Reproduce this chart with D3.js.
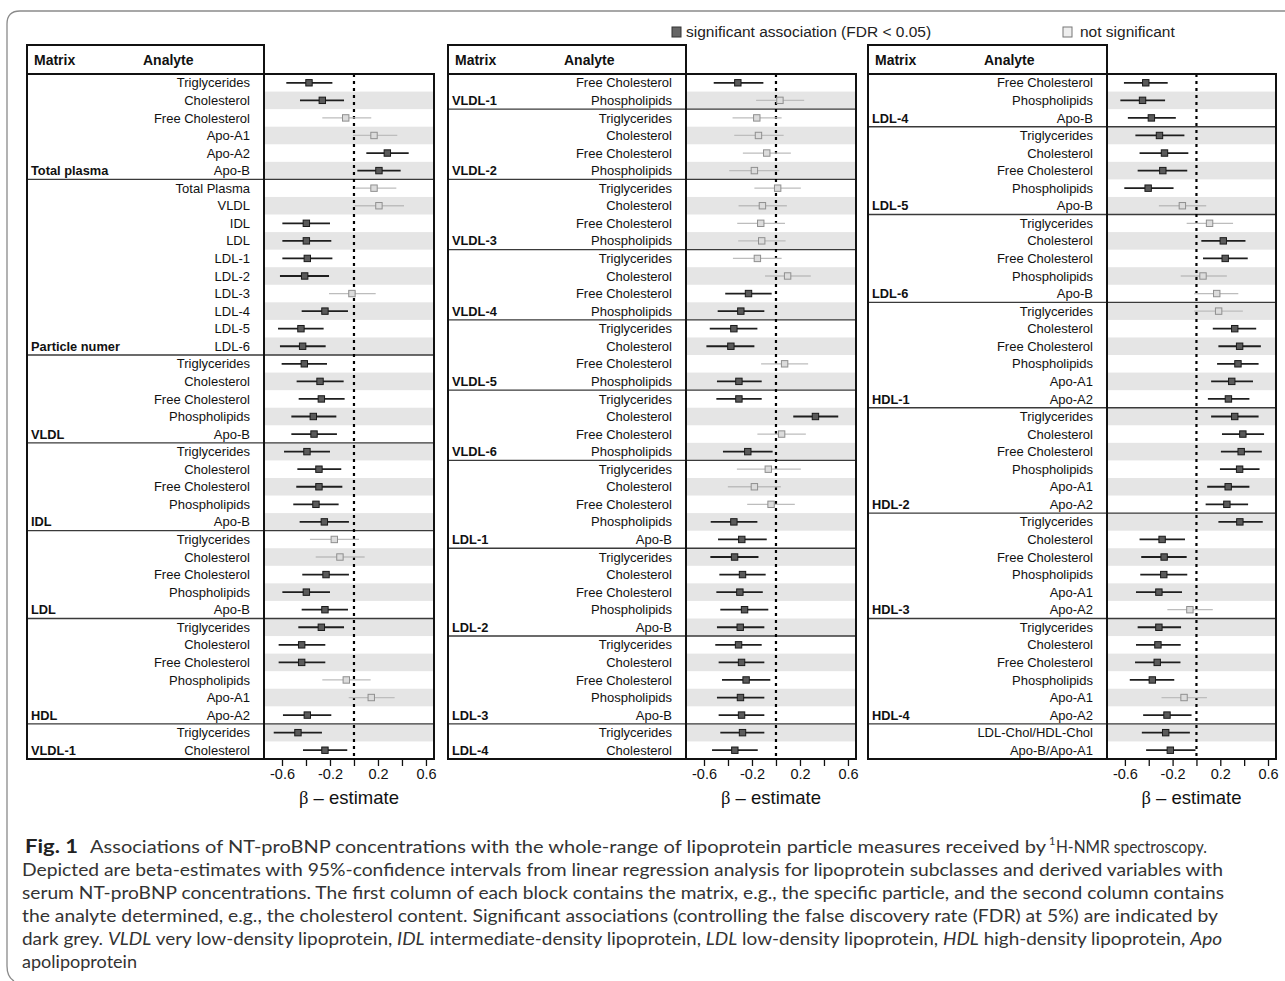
<!DOCTYPE html>
<html><head><meta charset="utf-8">
<script src="https://cdn.jsdelivr.net/npm/d3@7"></script>
<style>body{margin:0;background:#fff}svg{display:block}</style>
</head><body>
<script>
// ---------------- DATA ----------------
const legendLabels = ["significant association (FDR < 0.05)", "not significant"];
const tickValues = [-0.6, -0.4, -0.2, 0, 0.2, 0.4, 0.6];
const tickLabels = ["-0.6", "", "-0.2", "", "0.2", "", "0.6"];

const p1Groups = ["Total plasma", "Particle numer", "VLDL", "IDL", "LDL", "HDL", "VLDL-1"];
const p1GroupSizes = [6, 10, 5, 5, 5, 6, 2];
const p1Analytes = ["Triglycerides","Cholesterol","Free Cholesterol","Apo-A1","Apo-A2","Apo-B",
  "Total Plasma","VLDL","IDL","LDL","LDL-1","LDL-2","LDL-3","LDL-4","LDL-5","LDL-6",
  "Triglycerides","Cholesterol","Free Cholesterol","Phospholipids","Apo-B",
  "Triglycerides","Cholesterol","Free Cholesterol","Phospholipids","Apo-B",
  "Triglycerides","Cholesterol","Free Cholesterol","Phospholipids","Apo-B",
  "Triglycerides","Cholesterol","Free Cholesterol","Phospholipids","Apo-A1","Apo-A2",
  "Triglycerides","Cholesterol"];
const p1Est = [-0.375,-0.264,-0.069,0.167,0.278,0.208, 0.167,0.208,-0.397,-0.397,-0.389,-0.411,-0.017,-0.242,-0.442,-0.428,
  -0.414,-0.283,-0.272,-0.339,-0.333, -0.392,-0.292,-0.292,-0.317,-0.247, -0.164,-0.117,-0.233,-0.397,-0.242,
  -0.272,-0.436,-0.436,-0.064,0.144,-0.389, -0.467,-0.242];
const p1Lo = [-0.564,-0.45,-0.264,-0.008,0.103,0.028, 0.006,0.006,-0.597,-0.597,-0.597,-0.617,-0.208,-0.436,-0.633,-0.617,
  -0.603,-0.478,-0.461,-0.522,-0.522, -0.583,-0.472,-0.481,-0.506,-0.453, -0.367,-0.319,-0.431,-0.597,-0.436,
  -0.464,-0.628,-0.628,-0.264,-0.044,-0.592, -0.669,-0.425];
const p1Hi = [-0.18,-0.083,0.144,0.361,0.456,0.389, 0.353,0.417,-0.2,-0.189,-0.18,-0.208,0.181,-0.05,-0.253,-0.236,
  -0.225,-0.086,-0.078,-0.147,-0.142, -0.2,-0.106,-0.097,-0.128,-0.042, 0.042,0.089,-0.042,-0.2,-0.05,
  -0.083,-0.239,-0.239,0.139,0.339,-0.189, -0.267,-0.056];
const p1Sig = [1,1,0,0,1,1, 0,0,1,1,1,1,0,1,1,1, 1,1,1,1,1, 1,1,1,1,1, 0,0,1,1,1, 1,1,1,0,0,1, 1,1];

const p2Groups = ["VLDL-1","VLDL-2","VLDL-3","VLDL-4","VLDL-5","VLDL-6","LDL-1","LDL-2","LDL-3","LDL-4"];
const p2GroupSizes = [2, 4, 4, 4, 4, 4, 5, 5, 5, 2];
const p2Analytes = ["Free Cholesterol","Phospholipids",
  "Triglycerides","Cholesterol","Free Cholesterol","Phospholipids",
  "Triglycerides","Cholesterol","Free Cholesterol","Phospholipids",
  "Triglycerides","Cholesterol","Free Cholesterol","Phospholipids",
  "Triglycerides","Cholesterol","Free Cholesterol","Phospholipids",
  "Triglycerides","Cholesterol","Free Cholesterol","Phospholipids",
  "Triglycerides","Cholesterol","Free Cholesterol","Phospholipids","Apo-B",
  "Triglycerides","Cholesterol","Free Cholesterol","Phospholipids","Apo-B",
  "Triglycerides","Cholesterol","Free Cholesterol","Phospholipids","Apo-B",
  "Triglycerides","Cholesterol"];
const p2Est = [-0.318,0.033, -0.16,-0.146,-0.077,-0.18, 0.014,-0.113,-0.127,-0.119, -0.155,0.097,-0.229,-0.293,
  -0.351,-0.376,0.072,-0.309, -0.309,0.329,0.047,-0.235, -0.064,-0.18,-0.041,-0.351,-0.285,
  -0.345,-0.279,-0.301,-0.262,-0.298, -0.312,-0.287,-0.249,-0.296,-0.287, -0.279,-0.343];
const p2Lo = [-0.519,-0.166, -0.362,-0.348,-0.276,-0.39, -0.18,-0.312,-0.323,-0.315, -0.359,-0.091,-0.423,-0.486,
  -0.552,-0.58,-0.124,-0.492, -0.497,0.144,-0.155,-0.442, -0.326,-0.401,-0.24,-0.544,-0.483,
  -0.547,-0.472,-0.497,-0.464,-0.492, -0.506,-0.478,-0.45,-0.492,-0.478, -0.464,-0.533];
const p2Hi = [-0.105,0.235, 0.047,0.064,0.124,0.028, 0.207,0.091,0.075,0.08, 0.047,0.29,-0.036,-0.097,
  -0.155,-0.18,0.268,-0.119, -0.119,0.519,0.249,-0.028, 0.207,0.041,0.157,-0.155,-0.077,
  -0.146,-0.086,-0.11,-0.064,-0.097, -0.119,-0.097,-0.047,-0.097,-0.097, -0.097,-0.152];
const p2Sig = [1,0, 0,0,0,0, 0,0,0,0, 0,0,1,1, 1,1,0,1, 1,1,0,1, 0,0,0,1,1, 1,1,1,1,1, 1,1,1,1,1, 1,1];

const p3Groups = ["LDL-4","LDL-5","LDL-6","HDL-1","HDL-2","HDL-3","HDL-4",""];
const p3GroupSizes = [3, 5, 5, 6, 6, 6, 6, 2];
const p3Analytes = ["Free Cholesterol","Phospholipids","Apo-B",
  "Triglycerides","Cholesterol","Free Cholesterol","Phospholipids","Apo-B",
  "Triglycerides","Cholesterol","Free Cholesterol","Phospholipids","Apo-B",
  "Triglycerides","Cholesterol","Free Cholesterol","Phospholipids","Apo-A1","Apo-A2",
  "Triglycerides","Cholesterol","Free Cholesterol","Phospholipids","Apo-A1","Apo-A2",
  "Triglycerides","Cholesterol","Free Cholesterol","Phospholipids","Apo-A1","Apo-A2",
  "Triglycerides","Cholesterol","Free Cholesterol","Phospholipids","Apo-A1","Apo-A2",
  "LDL-Chol/HDL-Chol","Apo-B/Apo-A1"];
const p3Est = [-0.425,-0.452,-0.378, -0.31,-0.268,-0.282,-0.405,-0.118, 0.11,0.225,0.241,0.055,0.17,
  0.186,0.321,0.362,0.348,0.296,0.268, 0.321,0.389,0.375,0.362,0.266,0.255,
  0.364,-0.288,-0.271,-0.274,-0.315,-0.055, -0.315,-0.323,-0.329,-0.37,-0.104,-0.247, -0.258,-0.219];
const p3Lo = [-0.608,-0.638,-0.575, -0.512,-0.477,-0.493,-0.605,-0.315, -0.082,0.041,0.055,-0.132,-0.019,
  -0.019,0.137,0.184,0.173,0.123,0.096, 0.123,0.214,0.205,0.197,0.09,0.077,
  0.184,-0.477,-0.463,-0.471,-0.507,-0.244, -0.493,-0.507,-0.515,-0.559,-0.293,-0.447, -0.458,-0.422];
const p3Hi = [-0.241,-0.263,-0.173, -0.101,-0.068,-0.077,-0.192,0.082, 0.307,0.411,0.43,0.255,0.351,
  0.389,0.501,0.54,0.521,0.474,0.444, 0.521,0.567,0.548,0.529,0.444,0.433,
  0.556,-0.096,-0.082,-0.077,-0.121,0.137, -0.129,-0.132,-0.134,-0.186,0.088,-0.041, -0.055,-0.008];
const p3Sig = [1,1,1, 1,1,1,1,0, 0,1,1,0,0, 0,1,1,1,1,1, 1,1,1,1,1,1, 1,1,1,1,1,0, 1,1,1,1,0,1, 1,1];

const captionLines = [
  "Associations of NT-proBNP concentrations with the whole-range of lipoprotein particle measures received by",
  "Depicted are beta-estimates with 95%-confidence intervals from linear regression analysis for lipoprotein subclasses and derived variables with",
  "serum NT-proBNP concentrations. The first column of each block contains the matrix, e.g., the specific particle, and the second column contains",
  "the analyte determined, e.g., the cholesterol content. Significant associations (controlling the false discovery rate (FDR) at 5%) are indicated by",
  "apolipoprotein"
];
const captionAbbrev = [["dark grey. ", false], ["VLDL", true], [" very low-density lipoprotein, ", false], ["IDL", true],
  [" intermediate-density lipoprotein, ", false], ["LDL", true], [" low-density lipoprotein, ", false],
  ["HDL", true], [" high-density lipoprotein, ", false], ["Apo", true]];

// ---------------- DRAW ----------------
const W = 1285, H = 981;
const svg = d3.select("body").append("svg").attr("width", W).attr("height", H);
const SANS = "'Liberation Sans', Arial, sans-serif";

// figure frame
svg.append("path").attr("d", "M1290,11 H20 Q7,11 7,24 V966 Q7,977 14,981")
  .attr("fill", "none").attr("stroke", "#8a8a8a").attr("stroke-width", 1.3);

const panels = [
  {groups: p1Groups, sizes: p1GroupSizes, analytes: p1Analytes, est: p1Est, lo: p1Lo, hi: p1Hi, sig: p1Sig},
  {groups: p2Groups, sizes: p2GroupSizes, analytes: p2Analytes, est: p2Est, lo: p2Lo, hi: p2Hi, sig: p2Sig},
  {groups: p3Groups, sizes: p3GroupSizes, analytes: p3Analytes, est: p3Est, lo: p3Lo, hi: p3Hi, sig: p3Sig}
];
const layout = [{left: 27, div: 264, right: 434}, {left: 448, div: 686, right: 856}, {left: 868, div: 1107, right: 1276}];
const headerTop = 45, plotTop = 74, plotBottom = 759;

panels.forEach((p, pi) => {
  const L = layout[pi];
  const g = svg.append("g");
  const n = p.analytes.length;
  const y = d3.scaleBand().domain(d3.range(n)).range([plotTop, plotBottom]);
  const x = d3.scaleLinear().domain([-0.75, 0.667]).range([L.div, L.right]);
  const rh = y.bandwidth();

  // shading
  g.selectAll("rect.shade").data(d3.range(n).filter(i => i % 2 === 1)).join("rect")
    .attr("x", L.div).attr("width", L.right - L.div)
    .attr("y", i => y(i)).attr("height", rh).attr("fill", "#e5e5e5");

  // group separators and matrix labels
  let cum = 0;
  p.groups.forEach((name, gi) => {
    cum += p.sizes[gi];
    if (gi < p.groups.length - 1) {
      g.append("line").attr("x1", L.left).attr("x2", L.right)
        .attr("y1", y(cum - 1) + rh).attr("y2", y(cum - 1) + rh)
        .attr("stroke", "#3a3a3a").attr("stroke-width", 1.4);
    }
    g.append("text").attr("x", L.left + 4).attr("y", y(cum - 1) + rh / 2 + 4.6)
      .attr("font-family", SANS).attr("font-weight", "bold").attr("font-size", 12.8)
      .attr("fill", "#111").text(name);
  });

  // analyte labels
  g.selectAll("text.an").data(p.analytes).join("text")
    .attr("x", L.div - 14).attr("y", (d, i) => y(i) + rh / 2 + 4.6)
    .attr("text-anchor", "end").attr("font-family", SANS).attr("font-size", 13)
    .attr("fill", "#111").text(d => d);

  // zero line
  g.append("line").attr("x1", x(0)).attr("x2", x(0)).attr("y1", plotTop).attr("y2", plotBottom)
    .attr("stroke", "#000").attr("stroke-width", 2.2).attr("stroke-dasharray", "3,4");

  // CIs
  const idx = d3.range(n);
  g.selectAll("line.ci").data(idx).join("line")
    .attr("x1", i => x(p.lo[i])).attr("x2", i => x(p.hi[i]))
    .attr("y1", i => y(i) + rh / 2).attr("y2", i => y(i) + rh / 2)
    .attr("stroke", i => p.sig[i] ? "#1e1e1e" : "#bdbdbd")
    .attr("stroke-width", i => p.sig[i] ? 1.8 : 1.3);
  g.selectAll("rect.pt").data(idx).join("rect")
    .attr("x", i => x(p.est[i]) - 3.2).attr("y", i => y(i) + rh / 2 - 3.2)
    .attr("width", 6.4).attr("height", 6.4)
    .attr("fill", i => p.sig[i] ? "#5a5a5a" : "#dcdcdc")
    .attr("stroke", i => p.sig[i] ? "#1a1a1a" : "#8f8f8f").attr("stroke-width", 1);

  // borders
  g.append("rect").attr("x", L.left).attr("y", headerTop).attr("width", L.div - L.left)
    .attr("height", plotTop - headerTop).attr("fill", "none").attr("stroke", "#111").attr("stroke-width", 2);
  g.append("rect").attr("x", L.left).attr("y", plotTop).attr("width", L.right - L.left)
    .attr("height", plotBottom - plotTop).attr("fill", "none").attr("stroke", "#111").attr("stroke-width", 2);
  g.append("line").attr("x1", L.div).attr("x2", L.div).attr("y1", headerTop).attr("y2", plotBottom)
    .attr("stroke", "#111").attr("stroke-width", 2);

  // header
  g.append("text").attr("x", L.left + 7).attr("y", 65).attr("font-family", SANS)
    .attr("font-weight", "bold").attr("font-size", 14).attr("fill", "#111").text("Matrix");
  g.append("text").attr("x", L.left + 116).attr("y", 65).attr("font-family", SANS)
    .attr("font-weight", "bold").attr("font-size", 14).attr("fill", "#111").text("Analyte");

  // axis
  const ax = g.append("g").attr("transform", `translate(0,${plotBottom})`)
    .call(d3.axisBottom(x).tickValues(tickValues).tickSize(7).tickPadding(3)
      .tickFormat((d, i) => tickLabels[i]));
  ax.select(".domain").remove();
  ax.selectAll(".tick line").attr("stroke", "#111").attr("stroke-width", 1.3);
  ax.selectAll(".tick text").attr("font-family", SANS).attr("font-size", 14.5).attr("fill", "#111");

  const t = g.append("text").attr("x", (L.div + L.right) / 2).attr("y", 804)
    .attr("text-anchor", "middle").attr("font-size", 18.5).attr("fill", "#111");
  t.append("tspan").attr("font-family", "'Liberation Serif', 'DejaVu Serif', serif").text("β");
  t.append("tspan").attr("font-family", SANS).text(" \u2013 estimate");
});

// legend
svg.append("rect").attr("x", 672).attr("y", 27).attr("width", 9).attr("height", 10)
  .attr("fill", "#666").attr("stroke", "#333").attr("stroke-width", 1);
svg.append("text").attr("x", 686).attr("y", 37).attr("font-family", SANS).attr("font-size", 15.5)
  .attr("fill", "#222").text(legendLabels[0]);
svg.append("rect").attr("x", 1063).attr("y", 27).attr("width", 9).attr("height", 10)
  .attr("fill", "#eee").attr("stroke", "#777").attr("stroke-width", 1);
svg.append("text").attr("x", 1080).attr("y", 37).attr("font-family", SANS).attr("font-size", 15.5)
  .attr("fill", "#222").text(legendLabels[1]);

// caption
const CAP = "Lato, 'Open Sans', sans-serif";
const cy0 = 853, dy = 23, capFs = 18;
svg.append("text").attr("x", 25).attr("y", cy0).attr("font-family", CAP).attr("font-weight", "bold")
  .attr("font-size", capFs).attr("fill", "#222").attr("textLength", 53).attr("lengthAdjust", "spacingAndGlyphs").text("Fig. 1");
svg.append("text").attr("x", 90).attr("y", cy0).attr("font-family", CAP).attr("font-size", capFs)
  .attr("fill", "#333").attr("textLength", 956).attr("lengthAdjust", "spacingAndGlyphs").text(captionLines[0]);
svg.append("text").attr("x", 1049).attr("y", cy0 - 8).attr("font-family", CAP).attr("font-size", 11)
  .attr("fill", "#333").text("1");
svg.append("text").attr("x", 1056).attr("y", cy0).attr("font-family", CAP).attr("font-size", capFs)
  .attr("fill", "#333").attr("textLength", 151).attr("lengthAdjust", "spacingAndGlyphs").text("H-NMR spectroscopy.");
const ends = [1223, 1224, 1218];
[1, 2, 3].forEach((li, k) => {
  svg.append("text").attr("x", 22).attr("y", cy0 + dy * li).attr("font-family", CAP).attr("font-size", capFs)
    .attr("fill", "#333").attr("textLength", ends[k] - 22).attr("lengthAdjust", "spacingAndGlyphs")
    .text(captionLines[li]);
});
const t5 = svg.append("text").attr("x", 22).attr("y", cy0 + dy * 4).attr("font-family", CAP)
  .attr("font-size", capFs).attr("fill", "#333").attr("textLength", 1200).attr("lengthAdjust", "spacingAndGlyphs");
captionAbbrev.forEach(([s, it]) => {
  t5.append("tspan").attr("font-style", it ? "italic" : "normal").text(s);
});
svg.append("text").attr("x", 22).attr("y", cy0 + dy * 5).attr("font-family", CAP).attr("font-size", capFs)
  .attr("fill", "#333").attr("textLength", 115).attr("lengthAdjust", "spacingAndGlyphs").text(captionLines[4]);
</script>
</body></html>
